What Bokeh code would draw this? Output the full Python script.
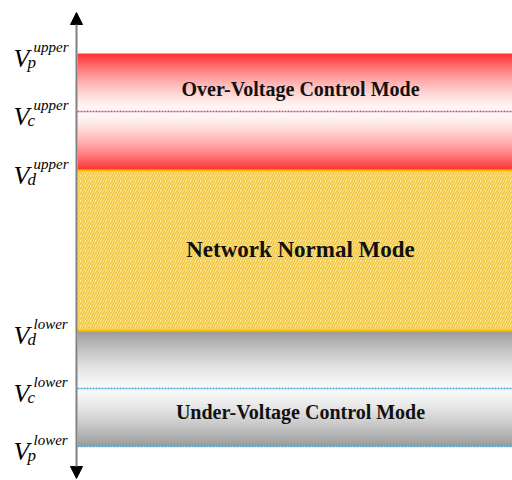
import numpy as np
from bokeh.plotting import figure
from bokeh.models import Range1d, Arrow, NormalHead, ColumnDataSource
from bokeh.core.properties import value
from bokeh.embed import file_html
from bokeh.resources import INLINE

# ---- data ----
level_sub = ["p", "c", "d", "d", "c", "p"]
level_sup = ["upper", "upper", "upper", "lower", "lower", "lower"]
level_y = [427, 369, 310, 150, 92, 34]

band_labels = ["Over-Voltage Control Mode", "Network Normal Mode", "Under-Voltage Control Mode"]
band_top = [level_y[0], level_y[2], level_y[3]]
band_bottom = [level_y[2], level_y[3], level_y[5]]
band_label_y = [392, 231, 69]
band_font_size = ["20px", "23px", "20px"]

axis_x = 76
axis_y0, axis_y1 = 2, 468
band_left, band_right = 77, 512
label_x = 13
text_center_x = 300

W, H = 512, 480
p = figure(width=W, height=H, output_backend="svg", toolbar_location=None,
           x_range=Range1d(0, W), y_range=Range1d(0, H), min_border=0)
p.axis.visible = False
p.grid.visible = False
p.outline_line_color = None
p.background_fill_color = "white"
p.border_fill_color = "white"


def gradient(edge, mid, n, gamma):
    t = np.abs(np.linspace(-1, 1, n))
    f = t ** gamma
    img = np.empty((n, 2), dtype=np.uint32)
    v = img.view(dtype=np.uint8).reshape((n, 2, 4))
    for k in range(3):
        v[:, :, k] = (mid[k] + (edge[k] - mid[k]) * f)[:, None].astype(np.uint8)
    v[:, :, 3] = 255
    return img


# red gradient band (over-voltage)
h0 = band_top[0] - band_bottom[0]
p.image_rgba(image=[gradient((255, 50, 50), (255, 250, 250), int(h0), 1.5)],
             x=band_left, y=band_bottom[0], dw=band_right - band_left, dh=h0)

# gray gradient band (under-voltage)
h2 = band_top[2] - band_bottom[2]
p.image_rgba(image=[gradient((155, 155, 155), (250, 250, 250), int(h2), 1.4)],
             x=band_left, y=band_bottom[2], dw=band_right - band_left, dh=h2)

# yellow hatched normal band
p.quad(left=band_left, right=band_right, top=band_top[1], bottom=band_bottom[1],
       fill_color="#FFEFA6", hatch_pattern="/", hatch_color="#F2C442",
       hatch_weight=1.6, hatch_scale=5, line_color=None)
p.segment(x0=[band_left] * 2, x1=[band_right] * 2,
          y0=[band_top[1], band_bottom[1]], y1=[band_top[1], band_bottom[1]],
          line_color="#FFC000", line_width=2)

# dashed threshold lines
p.segment(x0=[band_left], x1=[band_right], y0=[level_y[1]], y1=[level_y[1]],
          line_color="#E04560", line_width=1.5, line_dash="2 1")
p.segment(x0=[band_left] * 2, x1=[band_right] * 2, y0=[level_y[4], level_y[5]],
          y1=[level_y[4], level_y[5]], line_color="#3FA9DA", line_width=1.5, line_dash="2 1")

# mode labels
src = ColumnDataSource(dict(x=[text_center_x] * 3, y=band_label_y, t=band_labels, fs=band_font_size))
p.text(x="x", y="y", text="t", source=src, text_font=value("Liberation Serif"),
       text_font_style="bold", text_font_size="fs", text_color="#111111",
       text_align="center", text_baseline="middle")

# axis arrow
p.add_layout(Arrow(x_start=axis_x, y_start=axis_y0, x_end=axis_x, y_end=axis_y1,
                   line_color="#808080", line_width=2,
                   start=NormalHead(size=12, fill_color="black", line_color="black"),
                   end=NormalHead(size=12, fill_color="black", line_color="black")))

# V labels
lsrc = ColumnDataSource(dict(x=[label_x] * 6, y=level_y, sub=level_sub, sup=level_sup,
                             V=["V"] * 6))
p.text(x="x", y="y", text="V", source=lsrc, text_font=value("Liberation Serif"),
       text_font_style="italic", text_font_size="26px", text_color="black",
       text_align="left", text_baseline="alphabetic", y_offset=5)
p.text(x="x", y="y", text="sup", source=lsrc, text_font=value("Liberation Serif"),
       text_font_style="italic", text_font_size="15px", text_color="black",
       text_align="left", text_baseline="alphabetic", x_offset=20, y_offset=-7)
p.text(x="x", y="y", text="sub", source=lsrc, text_font=value("Liberation Serif"),
       text_font_style="italic", text_font_size="17px", text_color="black",
       text_align="left", text_baseline="alphabetic", x_offset=14, y_offset=9)

html = file_html(p, INLINE)
open("out.html", "w").write(html)
